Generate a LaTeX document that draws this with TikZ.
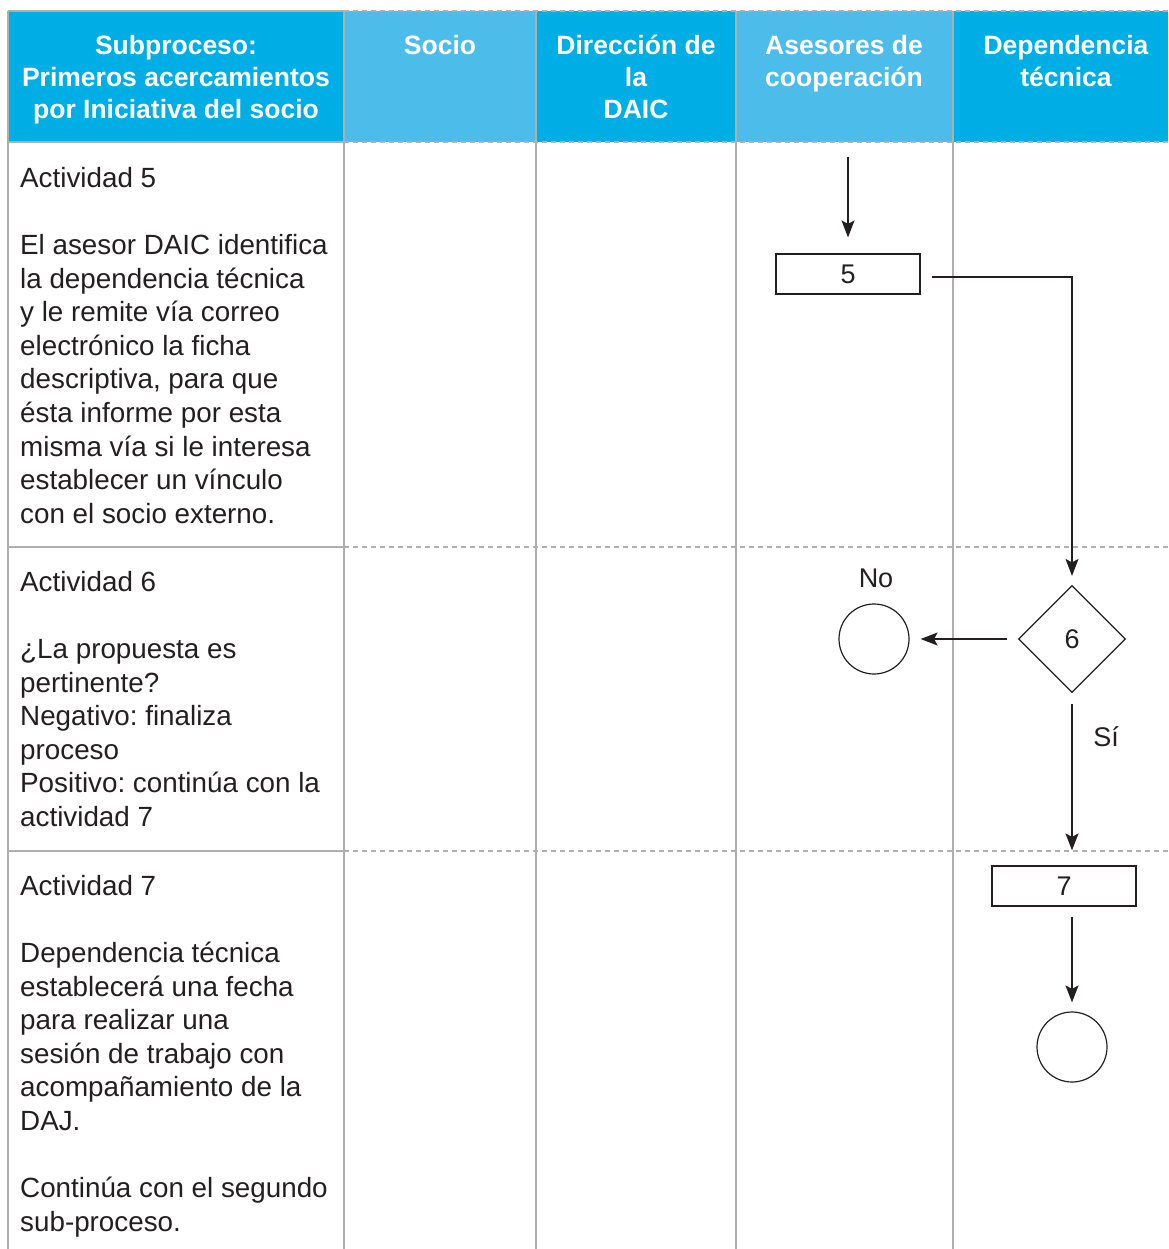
\documentclass[tikz,border=0pt]{standalone}
\usepackage{fontspec}
\setmainfont{Liberation Sans}
\usetikzlibrary{shapes.geometric,arrows.meta,calc}
\definecolor{hdrblue}{HTML}{00AEE6}
\definecolor{hdrlight}{HTML}{4CBDEB}
\definecolor{gridgray}{HTML}{AFAFAF}
\definecolor{ink}{HTML}{231F20}
\frenchspacing

\begin{document}
\begin{tikzpicture}[x=1pt,y=-1pt,
  hdr/.style={anchor=north, align=center, text=white, inner sep=0pt,
    font=\fontsize{26.5}{32}\selectfont\bfseries},
  body/.style={anchor=north west, align=left, text=ink, inner sep=0pt,
    font=\fontsize{27.8}{33.6}\selectfont},
  solidgrid/.style={draw=gridgray, line width=1.5pt},
  dashgrid/.style={draw=gridgray, line width=1.5pt, dash pattern=on 5pt off 4pt},
  stepbox/.style={draw=ink, line width=1.2pt, minimum width=144pt, minimum height=40pt,
    inner sep=0pt, text=ink, font=\fontsize{27}{30}\selectfont},
  decision/.style={diamond, draw=ink, line width=1.2pt, aspect=1, inner sep=0pt,
    minimum width=107pt, minimum height=107pt, text=ink, font=\fontsize{27}{30}\selectfont},
  endpoint/.style={circle, draw=ink, line width=1.2pt, minimum size=70pt, inner sep=0pt},
  lbl/.style={text=ink, inner sep=0pt, font=\fontsize{27}{30}\selectfont},
  flow/.style={draw=ink, line width=1.3pt, -{Stealth[length=17pt,width=13pt,inset=3.5pt]}},
]
\useasboundingbox (0,0) rectangle (1168,1249);
\fill[white] (0,0) rectangle (1168,1249);

% header band
\fill[hdrblue]  (8,11)   rectangle (344,142);
\fill[hdrlight] (344,11) rectangle (536,142);
\fill[hdrblue]  (536,11) rectangle (736,142);
\fill[hdrlight] (736,11) rectangle (953,142);
\fill[hdrblue]  (953,11) rectangle (1168,142);

% horizontal rules: solid under the first column, dashed across the lanes
\foreach \yy in {11,142,547,851} {
  \draw[solidgrid] (8,\yy) -- (344,\yy);
  \draw[dashgrid] (344,\yy) -- (1168,\yy);
}
% vertical rules
\foreach \xx in {8,344,536,736,953} {
  \draw[solidgrid] (\xx,11) -- (\xx,1249);
}

% header titles
\node[hdr] (h1) at (176,33.5) {\rule{0pt}{21pt}Subproceso:\\Primeros acercamientos\\por Iniciativa del socio};
\node[hdr] (h2) at (440,33.5) {\rule{0pt}{21pt}Socio};
\node[hdr] (h3) at (636,33.5) {\rule{0pt}{21pt}Dirección de\\la\\DAIC};
\node[hdr] (h4) at (844,33.5) {\rule{0pt}{21pt}Asesores de\\cooperación};
\node[hdr] (h5) at (1066,33.5) {\rule{0pt}{21pt}Dependencia\\técnica};

% activity descriptions
\node[body] (t5) at (20,166) {\rule{0pt}{21pt}Actividad 5\\[33.6pt]
  El asesor DAIC identifica\\la dependencia técnica\\y le remite vía correo\\
  electrónico la ficha\\descriptiva, para que\\ésta informe por esta\\
  misma vía si le interesa\\establecer un vínculo\\con el socio externo.};
\node[body] (t6) at (20,570) {\rule{0pt}{21pt}Actividad 6\\[33.6pt]
  ¿La propuesta es\\pertinente?\\Negativo: finaliza\\proceso\\
  Positivo: continúa con la\\actividad 7};
\node[body] (t7) at (20,874) {\rule{0pt}{21pt}Actividad 7\\[33.6pt]
  Dependencia técnica\\establecerá una fecha\\para realizar una\\
  sesión de trabajo con\\acompañamiento de la\\DAJ.\\[33.6pt]
  Continúa con el segundo\\sub-proceso.};

% flow elements
\coordinate (in5) at (848,157);
\node[stepbox] (b5) at (848,274) {5};
\node[decision] (d6) at (1072,639) {6};
\node[endpoint] (c1) at (874,639) {};
\node[lbl] (no) at (876,578) {No};
\node[lbl] (si) at (1106,737) {Sí};
\node[stepbox] (b7) at (1064,886) {7};
\node[endpoint] (c2) at (1072,1047) {};

% connectors
\draw[flow, shorten >=16pt] (in5) -- (b5.north);
\draw[flow, shorten <=11pt, shorten >=9pt] ($(b5.east)+(0,3)$) -| (d6.north);
\draw[flow, shorten <=11pt, shorten >=11pt] (d6.west) -- (c1.east);
\draw[flow, shorten <=11pt, shorten >=15pt] (d6.south) -- (d6.south |- b7.north);
\draw[flow, shorten <=10pt, shorten >=9pt] (d6.south |- b7.south) -- (c2.north);
\end{tikzpicture}
\end{document}
